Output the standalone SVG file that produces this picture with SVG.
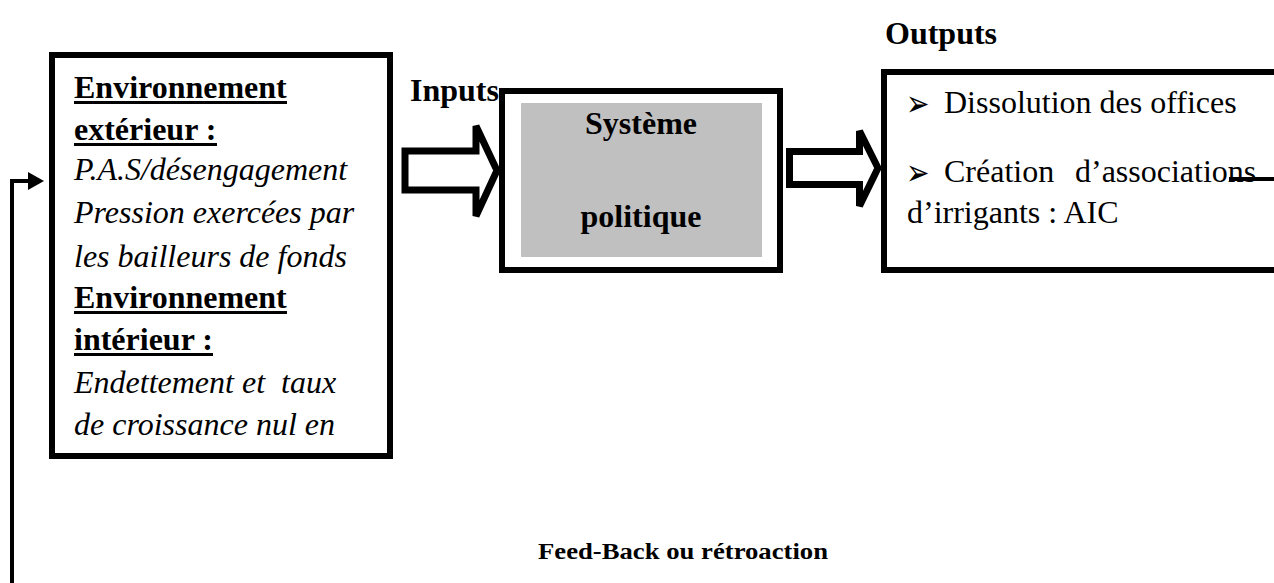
<svg xmlns="http://www.w3.org/2000/svg" width="1274" height="583" viewBox="0 0 1274 583">
<style>
.box{fill:#fff;stroke:#000;stroke-width:6}
.blk{fill:#fff;stroke:#000;stroke-width:7;stroke-linejoin:miter}
.t{font-family:"Liberation Serif","Times New Roman",serif;font-size:32px;fill:#000}
.b{font-weight:bold}
.i{font-style:italic}
.ul{stroke:#000;stroke-width:3}
.ln{stroke:#000;stroke-width:4;fill:none}
.bul{font-family:"DejaVu Sans",sans-serif;font-size:28px;fill:#000}
</style>
<rect width="1274" height="583" fill="#fff"/>
<g id="environnement">
  <rect class="box" x="52" y="55" width="338" height="401"/>
  <text class="t b" x="74" y="98">Environnement</text>
  <line class="ul" x1="74" y1="102.5" x2="287" y2="102.5"/>
  <text class="t b" x="74" y="140">extérieur :</text>
  <line class="ul" x1="74" y1="144.5" x2="217" y2="144.5"/>
  <text class="t i" x="74" y="180">P.A.S/désengagement</text>
  <text class="t i" x="74" y="223">Pression exercées par</text>
  <text class="t i" x="74" y="267">les bailleurs de fonds</text>
  <text class="t b" x="74" y="308">Environnement</text>
  <line class="ul" x1="74" y1="312.5" x2="287" y2="312.5"/>
  <text class="t b" x="74" y="350">intérieur :</text>
  <line class="ul" x1="74" y1="354.5" x2="213" y2="354.5"/>
  <text class="t i" x="74" y="393">Endettement et <tspan x="281">taux</tspan></text>
  <text class="t i" x="74" y="435">de croissance nul en</text>
</g>
<g id="inputs-label">
  <text class="t b" x="410" y="101">Inputs</text>
</g>
<g id="systeme">
  <rect class="box" x="502" y="91" width="278" height="179"/>
  <rect x="521" y="103" width="241" height="154" fill="#c0c0c0"/>
  <text class="t b" x="641" y="134" text-anchor="middle">Système</text>
  <text class="t b" x="641" y="227" text-anchor="middle">politique</text>
</g>
<g id="outputs-label">
  <text class="t b" x="885" y="44">Outputs</text>
</g>
<g id="outputs">
  <rect class="box" x="884" y="72" width="500" height="198"/>
  <text class="bul" transform="translate(906,115.5) scale(1,1.3)">➢</text>
  <text class="t" x="944" y="113">Dissolution des offices</text>
  <text class="bul" transform="translate(906,185) scale(1,1.3)">➢</text>
  <text class="t" x="944" y="182">Création <tspan x="1075">d’associations</tspan></text>
  <text class="t" x="907" y="223">d’irrigants : AIC</text>
</g>
<g id="feedback-label">
  <text class="t b" x="538" y="559" style="font-size:23px" textLength="290" lengthAdjust="spacingAndGlyphs">Feed-Back ou rétroaction</text>
</g>
<g id="connectors">
  <path class="ln" d="M12,583 V181 H30"/>
  <polygon points="28,172 44,181 28,190" fill="#000"/>
  <line class="ln" x1="1229" y1="179" x2="1274" y2="179"/>
  <polygon class="blk" points="405,151 476,151 476,126 497,170.5 476,216 476,190 405,190"/>
  <polygon class="blk" points="789.5,151.5 859.5,151.5 859.5,131 878,168 859.5,206 859.5,184.5 789.5,184.5"/>
</g>
</svg>
